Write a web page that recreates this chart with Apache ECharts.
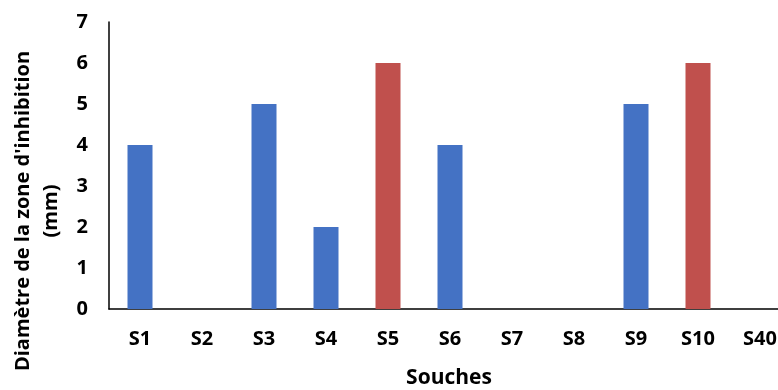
<!DOCTYPE html>
<html>
<head>
<meta charset="utf-8">
<script src="https://cdn.jsdelivr.net/npm/echarts@6/dist/echarts.min.js"></script>
<style>html,body{margin:0;padding:0;background:#fff}#c{width:778px;height:390px}</style>
</head>
<body>
<div id="c"></div>
<script>
var categories = ['S1','S2','S3','S4','S5','S6','S7','S8','S9','S10','S40'];
var values = [4,0,5,2,6,4,0,0,5,6,0];
var highlighted = ['S5','S10'];
var yTicks = [0,1,2,3,4,5,6,7];
var yTitle = ["Diamètre de la zone d'inhibition", "(mm)"];
var xTitle = 'Souches';

var FONT = '"Open Sans"';
var chart = echarts.init(document.getElementById('c'));
chart.setOption({
  animation: false,
  backgroundColor: '#fff',
  grid: {left: 109, width: 682, top: 22, height: 287, containLabel: false, outerBoundsMode: 'none'},
  xAxis: {
    type: 'category', data: categories,
    axisLine: {lineStyle: {color: '#000', width: 1.5}},
    axisTick: {show: false},
    axisLabel: {color: '#000', fontFamily: FONT, fontWeight: 'bold', fontSize: 20, margin: 20, interval: 0}
  },
  yAxis: {
    type: 'value', min: yTicks[0], max: yTicks[yTicks.length-1], interval: 1,
    splitLine: {show: false},
    axisLine: {show: true, lineStyle: {color: '#000', width: 1.5}},
    axisTick: {show: false},
    axisLabel: {color: '#000', fontFamily: FONT, fontWeight: 'bold', fontSize: 20, margin: 21}
  },
  series: [{
    type: 'bar', barWidth: 25,
    data: values.map(function(v, i){
      return {value: v, itemStyle: {color: highlighted.indexOf(categories[i]) >= 0 ? '#C0504D' : '#4472C4'}};
    })
  }],
  graphic: [
    {type: 'text', x: 23, y: 211, rotation: Math.PI/2, style: {text: yTitle[0], fontFamily: FONT, fontWeight: 'bold', fontSize: 20, fill: '#000', align: 'center', verticalAlign: 'middle'}},
    {type: 'text', x: 51, y: 211, rotation: Math.PI/2, style: {text: yTitle[1], fontFamily: FONT, fontWeight: 'bold', fontSize: 20, fill: '#000', align: 'center', verticalAlign: 'middle'}},
    {type: 'text', x: 449, y: 378, style: {text: xTitle, fontFamily: FONT, fontWeight: 'bold', fontSize: 21, fill: '#000', align: 'center', verticalAlign: 'middle'}}
  ]
});
</script>
</body>
</html>
